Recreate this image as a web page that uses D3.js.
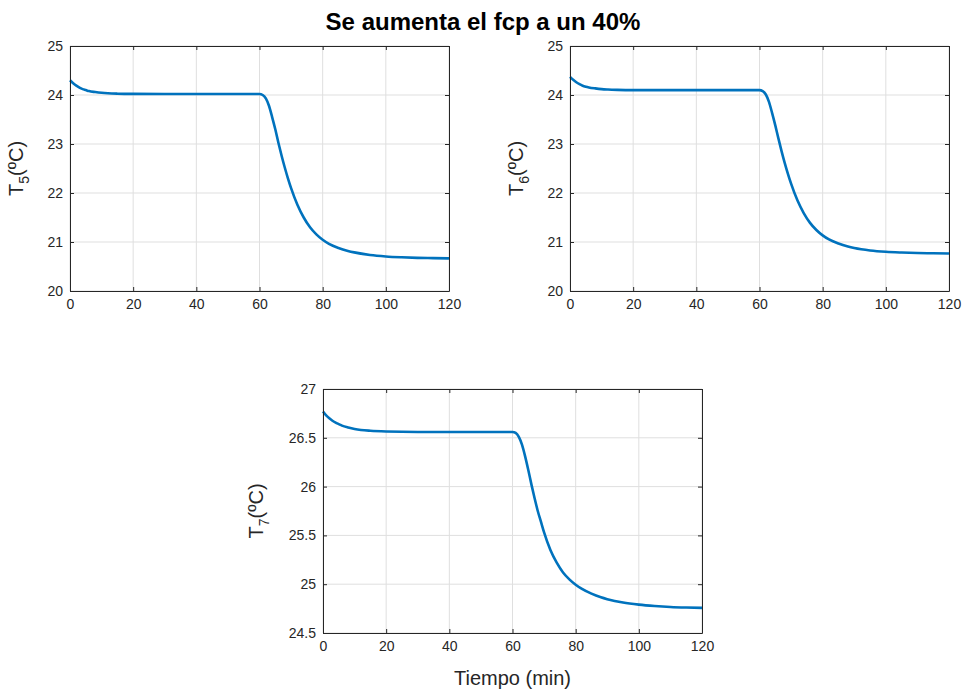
<!DOCTYPE html>
<html>
<head>
<meta charset="utf-8">
<script src="https://cdn.jsdelivr.net/npm/d3@7"></script>
<style>
  body { margin: 0; background: #fff; }
  svg { display: block; font-family: "Liberation Sans", Arial, sans-serif; }
</style>
</head>
<body>
<svg id="fig" width="966" height="695"></svg>
<script>
// tiempo en minutos
var tiempo = [0, 1, 2, 3, 4, 5, 6, 8, 10, 12, 15, 20, 30, 40, 50, 60, 61, 62, 63, 64, 65, 66, 67, 68, 69, 70,
              72, 74, 76, 78, 80, 82, 85, 88, 90, 95, 100, 105, 110, 115, 120];

var t5 = [24.30, 24.24, 24.19, 24.15, 24.12, 24.10, 24.08, 24.06, 24.045, 24.035, 24.027, 24.022, 24.02, 24.02, 24.02, 24.02,
          24.00, 23.93, 23.78, 23.55, 23.30, 23.02, 22.76, 22.52, 22.30, 22.10,
          21.76, 21.50, 21.30, 21.155, 21.045, 20.962, 20.878, 20.818, 20.788, 20.735, 20.705, 20.688, 20.677, 20.67, 20.665];

var t6 = [24.37, 24.31, 24.26, 24.22, 24.19, 24.17, 24.155, 24.135, 24.12, 24.112, 24.105, 24.10, 24.10, 24.10, 24.10, 24.10,
          24.08, 24.01, 23.86, 23.63, 23.38, 23.11, 22.85, 22.61, 22.39, 22.19,
          21.85, 21.59, 21.39, 21.245, 21.135, 21.052, 20.968, 20.908, 20.878, 20.828, 20.800, 20.785, 20.775, 20.769, 20.765];

var t7 = [26.77, 26.73, 26.70, 26.675, 26.655, 26.64, 26.625, 26.605, 26.59, 26.58, 26.572, 26.565, 26.56, 26.56, 26.56, 26.56,
          26.55, 26.51, 26.43, 26.31, 26.17, 26.02, 25.88, 25.75, 25.64, 25.53,
          25.35, 25.22, 25.12, 25.05, 24.995, 24.952, 24.903, 24.866, 24.847, 24.812, 24.791, 24.777, 24.767, 24.761, 24.757];

var xTicks = [0, 20, 40, 60, 80, 100, 120];
var yTicksA = [20, 21, 22, 23, 24, 25];
var yTicksB = [24.5, 25, 25.5, 26, 26.5, 27];

var titulo = "Se aumenta el fcp a un 40%";

var svg = d3.select("#fig");
var ejeColor = "#262626";
var lineaColor = "#0072BD";

svg.append("text")
  .attr("x", 483).attr("y", 30)
  .attr("text-anchor", "middle")
  .style("font-size", "24px").style("font-weight", "bold")
  .attr("fill", "#000")
  .text(titulo);

var paneles = [
  { x0: 70, y0: 46, w: 379, h: 245, datos: t5, sub: "5", dom: [20, 25], yt: yTicksA, xlab: false, ylx: -47 },
  { x0: 570, y0: 46, w: 379, h: 245, datos: t6, sub: "6", dom: [20, 25], yt: yTicksA, xlab: false, ylx: -47 },
  { x0: 323, y0: 389, w: 379, h: 244, datos: t7, sub: "7", dom: [24.5, 27], yt: yTicksB, xlab: true, ylx: -60 }
];

paneles.forEach(function(p) {
  var g = svg.append("g").attr("transform", "translate(" + p.x0 + "," + p.y0 + ")");
  var x = d3.scaleLinear().domain([0, 120]).range([0, p.w]);
  var y = d3.scaleLinear().domain(p.dom).range([p.h, 0]);

  // grid
  g.selectAll(".gx").data(xTicks).enter().append("line")
    .attr("x1", d => x(d)).attr("x2", d => x(d))
    .attr("y1", 0).attr("y2", p.h)
    .attr("stroke", "#dfdfdf").attr("stroke-width", 1);
  g.selectAll(".gy").data(p.yt).enter().append("line")
    .attr("x1", 0).attr("x2", p.w)
    .attr("y1", d => y(d)).attr("y2", d => y(d))
    .attr("stroke", "#dfdfdf").attr("stroke-width", 1);

  // curva
  var linea = d3.line()
    .x((d, i) => x(tiempo[i]))
    .y(d => y(d))
    .curve(d3.curveMonotoneX);
  g.append("path")
    .datum(p.datos)
    .attr("d", linea)
    .attr("fill", "none")
    .attr("stroke", lineaColor)
    .attr("stroke-width", 2.6);

  // ejes (ticks hacia dentro, caja completa)
  var fmt = d3.format("");
  var ax = g.append("g").attr("transform", "translate(0," + p.h + ")")
    .call(d3.axisBottom(x).tickValues(xTicks).tickSizeInner(-4).tickSizeOuter(0).tickPadding(8).tickFormat(fmt));
  var ay = g.append("g")
    .call(d3.axisLeft(y).tickValues(p.yt).tickSizeInner(-4).tickSizeOuter(0).tickPadding(7).tickFormat(fmt));
  var axT = g.append("g")
    .call(d3.axisTop(x).tickValues(xTicks).tickSizeInner(-4).tickSizeOuter(0).tickFormat(""));
  var ayR = g.append("g").attr("transform", "translate(" + p.w + ",0)")
    .call(d3.axisRight(y).tickValues(p.yt).tickSizeInner(-4).tickSizeOuter(0).tickFormat(""));

  [ax, ay, axT, ayR].forEach(function(a) {
    a.select(".domain").attr("stroke", ejeColor).attr("stroke-width", 1);
    a.selectAll(".tick line").attr("stroke", ejeColor);
    a.selectAll(".tick text").attr("fill", ejeColor)
      .style("font-size", "14px").style("font-family", "'Liberation Sans', Arial, sans-serif");
  });

  // etiqueta y
  var yl = g.append("text")
    .attr("transform", "translate(" + p.ylx + "," + (p.h / 2) + ") rotate(-90)")
    .attr("text-anchor", "middle")
    .attr("fill", ejeColor)
    .style("font-size", "20px");
  yl.append("tspan").text("T");
  yl.append("tspan").attr("dy", 6).style("font-size", "14px").text(p.sub);
  yl.append("tspan").attr("dy", -6).text("(ºC)");

  if (p.xlab) {
    g.append("text")
      .attr("x", p.w / 2).attr("y", p.h + 52)
      .attr("text-anchor", "middle")
      .attr("fill", ejeColor)
      .style("font-size", "20px")
      .text("Tiempo (min)");
  }
});
</script>
</body>
</html>
